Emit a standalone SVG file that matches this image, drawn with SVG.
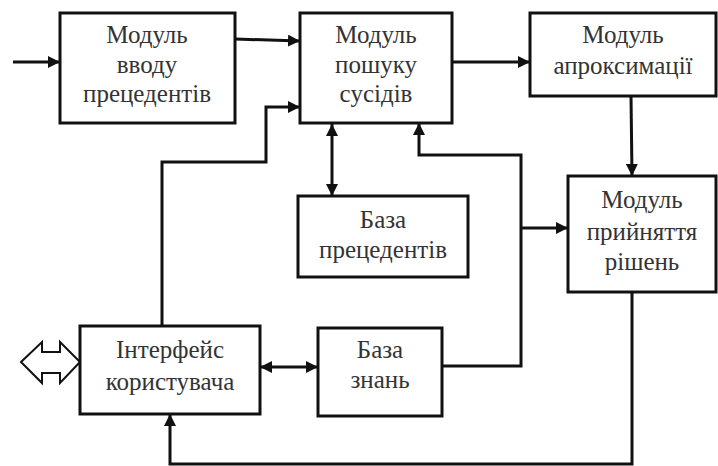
<svg xmlns="http://www.w3.org/2000/svg" width="718" height="466" viewBox="0 0 718 466">
<defs>
<style>
.box{fill:#fff;stroke:#111;stroke-width:3}
.ln{fill:none;stroke:#111;stroke-width:3}
</style>
<marker id="ah" viewBox="0 0 10 10" refX="10" refY="5" markerWidth="4" markerHeight="4" orient="auto-start-reverse" markerUnits="strokeWidth">
<path d="M0,0 L10,5 L0,10 z" fill="#111"/>
</marker>
</defs>
<rect width="718" height="466" fill="#fff"/>
<g id="connectors">
<path class="ln" d="M13,62 H60" marker-end="url(#ah)"/>
<path class="ln" d="M235,39 L300,41" marker-end="url(#ah)"/>
<path class="ln" d="M452,62 H530" marker-end="url(#ah)"/>
<path class="ln" d="M631,96 L632,176" marker-end="url(#ah)"/>
<path class="ln" d="M332,124 V196" marker-start="url(#ah)" marker-end="url(#ah)"/>
<path class="ln" d="M162,326 V162 H266 V107 H300" marker-end="url(#ah)"/>
<path class="ln" d="M442,366 H521 V155 H419 V123" marker-end="url(#ah)"/>
<path class="ln" d="M521,228 H568" marker-end="url(#ah)"/>
<path class="ln" d="M632,292 V464 H170 V414" marker-end="url(#ah)"/>
<path class="ln" d="M260,367 H318" marker-start="url(#ah)" marker-end="url(#ah)"/>
<polygon points="21,362 42,342 42,352 60,352 60,342 80,362 60,383 60,373 42,373 42,383" fill="#fff" stroke="#111" stroke-width="2"/>
</g>
<g font-size="25" fill="#333" text-anchor="middle" font-family="'Liberation Serif', 'DejaVu Serif', serif">
<g id="n1"><rect class="box" x="60" y="13" width="175" height="110"/><text x="147" y="43">Модуль</text><text x="147" y="73">вводу</text><text x="147" y="102">прецедентів</text></g>
<g id="n2"><rect class="box" x="300" y="13" width="152" height="110"/><text x="376" y="43">Модуль</text><text x="376" y="73">пошуку</text><text x="376" y="102">сусідів</text></g>
<g id="n3"><rect class="box" x="530" y="13" width="186" height="83"/><text x="623" y="43">Модуль</text><text x="623" y="74">апроксимації</text></g>
<g id="n4"><rect class="box" x="568" y="176" width="148" height="116"/><text x="642" y="208">Модуль</text><text x="642" y="240">прийняття</text><text x="642" y="270">рішень</text></g>
<g id="n5"><rect class="box" x="298" y="196" width="170" height="81"/><text x="383" y="228">База</text><text x="383" y="258">прецедентів</text></g>
<g id="n6"><rect class="box" x="80" y="326" width="180" height="88"/><text x="170" y="358">Інтерфейс</text><text x="170" y="390">користувача</text></g>
<g id="n7"><rect class="box" x="318" y="328" width="124" height="88"/><text x="380" y="358">База</text><text x="380" y="388">знань</text></g>
</g>
</svg>
